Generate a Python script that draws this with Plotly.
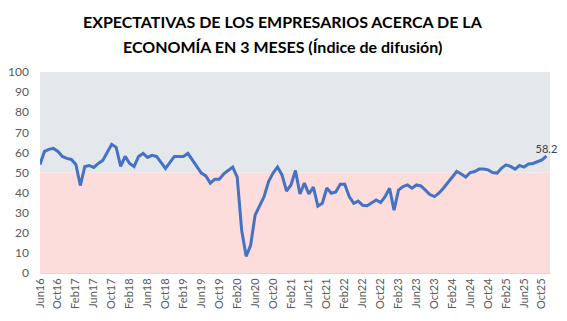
import plotly.graph_objects as go

# Monthly index values, Jun 2016 .. Nov 2025
values = [
    54, 60.5, 61.5, 62, 60.5, 58, 57, 56.5, 54, 43.5, 53, 53.5, 52.5, 54.5, 56, 60,
    64, 62.5, 53, 58, 54.5, 53, 58, 59.5, 57.5, 58.5, 58, 55, 52, 55, 58, 58, 58,
    59.5, 56.3, 52.7,
    49.7, 48.3, 44.7, 46.7, 46.7, 49.3, 50.8, 52.7, 47.7, 21.3, 8.3, 13.8, 28.8, 33.8,
    38, 45.5, 49.7, 52.7, 48.8, 40.8, 43.8, 51, 39.3, 44.7, 39.3, 42.7, 33.3, 34.7,
    42.3, 39.7, 40.3, 44.2, 44.2, 38, 34.7, 35.8,
    33.7, 33.5, 35, 36.3, 35, 38, 42.2, 31.3, 41.3, 43, 43.8, 42.2, 43.8, 43.3, 41.2,
    39, 38, 39.7, 42.2, 45, 48, 50.5, 49.3, 47.7, 50, 50.5, 51.7, 51.7, 51.3, 50, 49.7,
    52.2, 53.8, 53, 51.7, 53.5, 52.7, 54.2, 54.5, 55.5, 56.3, 58.2,
]
tick_labels = [
    "Jun16", "Oct16", "Feb17", "Jun17", "Oct17", "Feb18", "Jun18", "Oct18",
    "Feb19", "Jun19", "Oct19", "Feb20", "Jun20", "Oct20", "Feb21", "Jun21",
    "Oct21", "Feb22", "Jun22", "Oct22", "Feb23", "Jun23", "Oct23", "Feb24",
    "Jun24", "Oct24", "Feb25", "Jun25", "Oct25",
]
title_lines = [
    "EXPECTATIVAS DE LOS EMPRESARIOS ACERCA DE LA",
    "ECONOMÍA EN 3 MESES (Índice de difusión)",
]
threshold = 50
y_max = 100

x_idx = list(range(len(values)))
tick_pos = [i * 4 for i in range(len(tick_labels))]

fig = go.Figure()
fig.add_trace(go.Scatter(
    x=x_idx, y=values, mode="lines",
    line=dict(color="#4472C4", width=3),
    hoverinfo="skip", showlegend=False,
))
fig.add_trace(go.Scatter(
    x=[x_idx[-1]], y=[values[-1]], mode="text",
    text=[f"{values[-1]:.1f}"], textposition="top center",
    textfont=dict(family="Lato, Arial", size=11, color="#404040"),
    showlegend=False, hoverinfo="skip", cliponaxis=False,
))

fig.add_shape(type="rect", xref="paper", yref="y", x0=0, x1=1, y0=threshold, y1=y_max,
              fillcolor="#E4E7EC", line_width=0, layer="below")
fig.add_shape(type="rect", xref="paper", yref="y", x0=0, x1=1, y0=0, y1=threshold,
              fillcolor="#FDDCDC", line_width=0, layer="below")

for line, ypos in zip(title_lines, [1.249, 1.129]):
    fig.add_annotation(
        text=f"<b>{line}</b>", xref="paper", yref="paper", x=0.476, y=ypos,
        xanchor="center", yanchor="middle", showarrow=False,
        font=dict(family="Lato, Arial", size=16, color="#000000"),
    )

fig.update_layout(
    width=567, height=321,
    margin=dict(l=40, r=17, t=72, b=48),
    paper_bgcolor="white", plot_bgcolor="white",
    font=dict(family="Lato, Arial", size=11, color="#595959"),
)
fig.update_xaxes(
    range=[0, 113.8], tickmode="array", tickvals=tick_pos, ticktext=tick_labels,
    tickangle=-90, showgrid=False, zeroline=False,
    showline=True, linecolor="#D9D9D9", linewidth=1,
    tickfont=dict(size=11, color="#595959"), ticks="", automargin=False,
)
fig.update_yaxes(
    range=[0, y_max], dtick=10, showgrid=False, zeroline=False,
    tickfont=dict(size=12, color="#595959"), ticks="", ticklabelstandoff=10,
    automargin=False,
)

fig.write_html("out.html")
